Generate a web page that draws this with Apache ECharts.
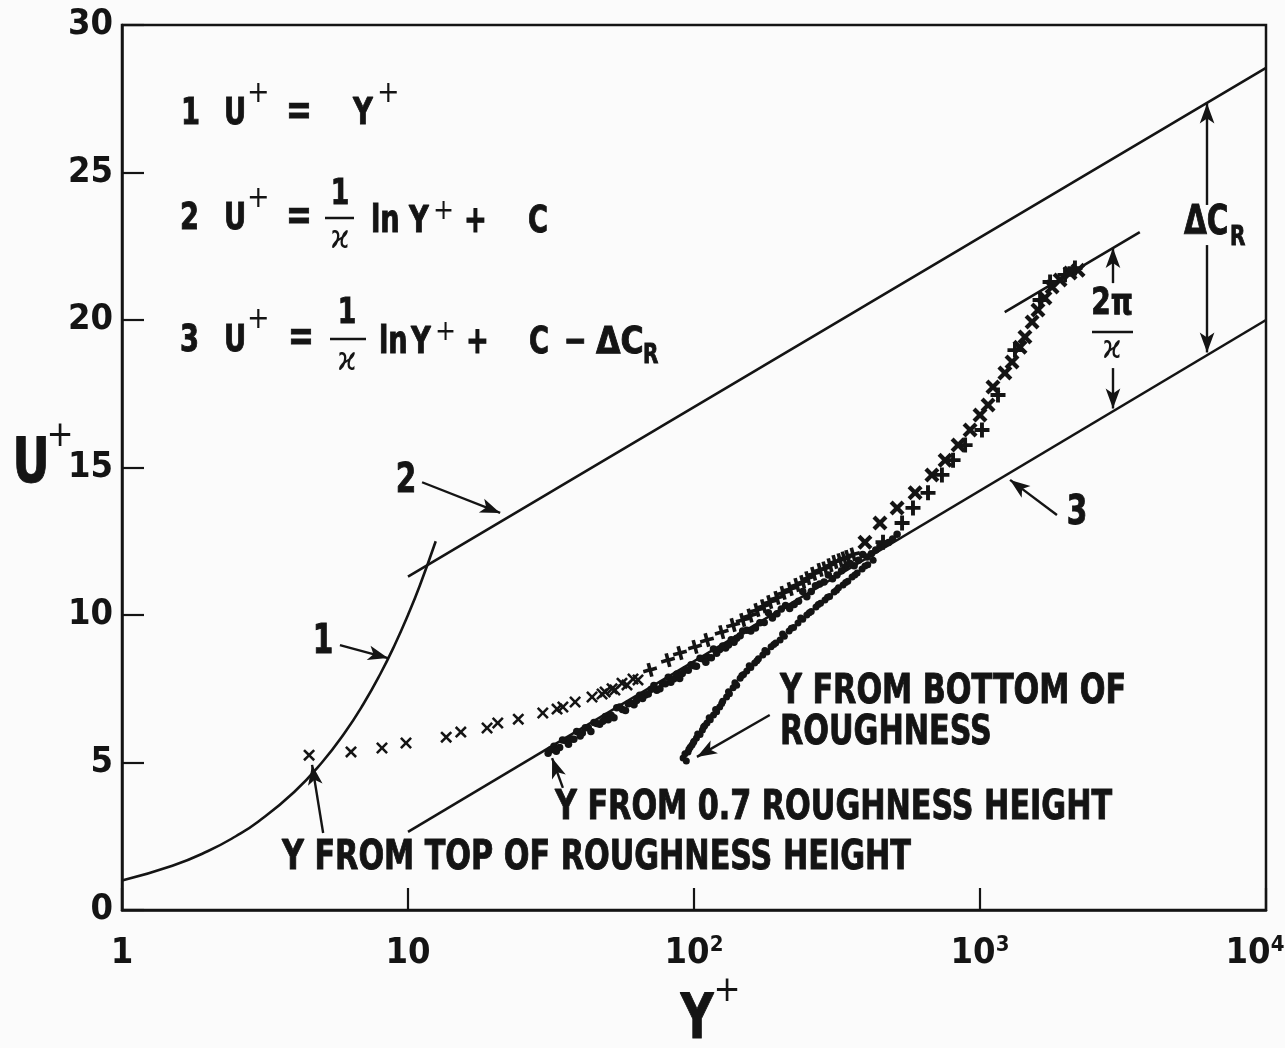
<!DOCTYPE html>
<html>
<head>
<meta charset="utf-8">
<title>Velocity profiles over rough wall</title>
<script src="https://cdn.jsdelivr.net/npm/echarts@6/dist/echarts.min.js"></script>
<style>
  html, body { margin: 0; padding: 0; background: #fbfbfb; overflow: hidden; }
  #c { width: 1285px; height: 1048px; }
</style>
</head>
<body>
<div id="c"></div>
<script>
const FONT = '"Liberation Sans Narrow", "DejaVu Sans Condensed", "Arial Narrow", sans-serif';
const INK = '#141414';

// Reference curves, pairs of [Y+, U+]
const viscousSublayer = [[1,1],[1.5,1.5],[2,2],[2.5,2.5],[3,3],[4,4],[5,5],[6,6],[7,7],[8,8],[9,9],[10,10],[11,11],[12.5,12.5]];
const logLawSmooth = [[10,11.3],[10000,28.55]];
const logLawRough = [[10,2.65],[10000,20.0]];
const wakeShiftLine = [[1220,20.27],[3620,22.98]];

// Y measured from top of roughness height (x marks, then + marks)
const topOfRoughnessX = [[4.51,5.25],[6.32,5.36],[8.11,5.49],[9.84,5.66],[13.6,5.86],[15.3,6.03],[18.9,6.17],[20.6,6.34],[24.3,6.47],[29.6,6.68],[33.2,6.81],[34.8,6.88],[38.4,7.05],[44.0,7.22],[47.7,7.32],[48.9,7.39],[51.7,7.50],[52.9,7.46],[56.0,7.69],[58.3,7.63],[61.2,7.83],[63.7,7.80]];
const topOfRoughnessPlus = [[70.2,8.14],[81.1,8.47],[89.3,8.71],[100.8,8.92],[111,9.15],[125,9.42],[137,9.66],[148,9.83],[157,9.98],[166,10.17],[175,10.30],[184,10.44],[195,10.58],[205,10.75],[217,10.88],[229,11.02],[240,11.12],[250,11.25],[262,11.40],[276,11.53],[287,11.58],[299,11.69],[311,11.80],[324,11.86],[335,11.92],[345,11.97],[360,12.05]];

// Y measured from 0.7 roughness height
const pointSevenHeight = [[30.9,5.31],[32.4,5.55],[33.9,5.51],[35.5,5.75],[37.2,5.80],[38.9,6.05],[40.7,6.00],[42.7,6.18],[44.7,6.36],[46.8,6.30],[49.0,6.56],[51.3,6.60],[53.7,6.86],[56.2,6.80],[58.9,6.99],[61.7,6.96],[64.6,7.28],[67.6,7.29],[70.8,7.48],[74.1,7.45],[77.6,7.68],[81.3,7.89],[85.1,7.84],[89.1,7.85],[93.3,8.14],[97.7,8.31],[102,8.26],[107,8.52],[112,8.56],[117,8.85],[123,8.83],[129,8.88],[135,9.16],[141,9.21],[148,9.46],[158,9.46],[170,9.74],[182,10.08],[195,10.04],[209,10.32],[224,10.36],[240,10.80],[257,10.80],[275,11.05],[295,11.36],[316,11.36],[339,11.63],[363,11.67],[389,12.05],[417,12.08],[447,12.35],[479,12.46],[513,12.74],
  [31.6,5.43],[34.7,5.76],[38.0,5.79],[41.7,6.18],[45.7,6.32],[50.1,6.45],[55.0,6.88],[60.3,7.01],[66.1,7.17],[72.4,7.61],[79.4,7.67],[87.1,8.00],[95.5,8.13],[105,8.53],[115,8.55],[126,8.95],[138,9.08],[153,9.48],[176,9.75],[202,10.20],[232,10.47],[266,10.99],[305,11.23],[351,11.75],[403,11.97],[462,12.41],
  [33.0,5.38],[36.4,5.62],[40.0,5.90],[43.6,6.05],[48.0,6.40],[52.5,6.52],[57.6,6.76],[63.0,7.10],[69.2,7.32],[76.0,7.50],[83.0,7.72],[91.0,8.02],[100,8.28],[110,8.40],[120,8.70],[132,8.98],[145,9.30],[164,9.56],[188,9.90],[216,10.22],[248,10.62],[285,11.12],[328,11.50],[376,11.86],[432,12.20],[495,12.58]];

// Y measured from bottom of roughness
const bottomOfRoughness = [[91.6,5.15],[95.3,5.36],[98.4,5.59],[102,5.83],[107,6.10],[111,6.34],[117,6.61],[123,6.88],[130,7.22],[137,7.53],[145,7.86],[153,8.10],[163,8.37],[174,8.64],[186,8.92],[200,9.15],[215,9.46],[231,9.73],[248,10.0],[267,10.27],[287,10.51],[309,10.78],[332,11.02],[357,11.29],[387,11.56],[423,11.86],
  [94,5.05],[97,5.52],[100,5.72],[105,5.95],[109,6.25],[114,6.45],[120,6.72],[126,7.08],[133,7.33],[141,7.62],[149,7.98],[158,8.22],[168,8.52],[180,8.75],[193,9.05],[207,9.28],[223,9.58],[240,9.86],[257,10.12],[277,10.40],[298,10.63],[320,10.92],[345,11.14],[372,11.42],[405,11.70],
  [93,5.30],[96,5.45],[99.5,5.68],[103,5.97],[108,6.20],[113,6.52],[119,6.80],[125,7.00],[132,7.40],[139,7.70],[147,7.95],[156,8.28],[166,8.45],[177,8.80],[190,9.00],[204,9.36],[219,9.55],[236,9.90],[253,10.08],[272,10.36],[293,10.60],[315,10.84],[339,11.10],[365,11.36],[396,11.66]];

// Outer region where the profiles merge
const outerRegionX = [[396,12.47],[447,13.12],[513,13.63],[593,14.14],[679,14.75],[755,15.25],[838,15.76],[923,16.27],[1000,16.78],[1067,17.12],[1110,17.73],[1222,18.20],[1294,18.58],[1380,19.08],[1436,19.42],[1521,19.93],[1595,20.34],[1687,20.75],[1786,21.12],[1905,21.36],[2065,21.59],[2202,21.69]];
const outerRegionPlus = [[458,12.47],[534,13.12],[583,13.63],[658,14.14],[736,14.75],[805,15.25],[887,15.76],[1016,16.27],[1156,17.46],[1325,18.98],[1622,20.68],[1758,21.29],[1983,21.53],[2148,21.76]];

// Pointer arrows: [from, to] in [Y+, U+]
const pointerArrows = [
  [[5.78,8.98],[8.51,8.54]],
  [[11.2,14.5],[21.0,13.46]],
  [[1858,13.39],[1274,14.58]],
  [[184,6.61],[102.4,5.19]],
  [[34.8,4.14],[31.9,5.15]],
  [[5.05,2.61],[4.62,4.92]],
  [[6223,23.9],[6223,27.34]],
  [[6223,22.54],[6223,18.9]],
  [[2917,21.25],[2917,22.44]],
  [[2917,18.37],[2917,17.0]]
];

const xTickExp = { 1: '1', 10: '10', 100: '2', 1000: '3', 10000: '4' };

const CROSS = 'path://M0,1.5L1.5,0L5,3.5L8.5,0L10,1.5L6.5,5L10,8.5L8.5,10L5,6.5L1.5,10L0,8.5L3.5,5Z';
const CROSS_BOLD = 'path://M0,2L2,0L5,3L8,0L10,2L7,5L10,8L8,10L5,7L2,10L0,8L3,5Z';
const PLUS_BOLD = 'path://M3.7,0H6.3V3.7H10V6.3H6.3V10H3.7V6.3H0V3.7H3.7Z';

const SQUEEZE = 0.82;
function T(x, y, text, size, opts) {
  opts = opts || {};
  const al = opts.align || 'left';
  const bold = (opts.weight || 'bold') === 'bold';
  return {
    type: 'text', x: x, y: y, z: 100, silent: true,
    scaleX: opts.sx || (bold ? SQUEEZE : 1),
    style: {
      text: text, fontSize: size, fontFamily: FONT,
      fontWeight: opts.weight || 'bold', fill: INK,
      stroke: bold ? INK : null, lineWidth: bold ? 0.9 : 0,
      align: al, verticalAlign: 'middle',
      textAlign: al, textVerticalAlign: 'middle'
    }
  };
}
function bar(x1, x2, y) {
  return { type: 'rect', z: 100, silent: true, shape: { x: x1, y: y - 1.25, width: x2 - x1, height: 2.5 }, style: { fill: INK } };
}

const lineStyle = { color: INK, width: 2.6 };
function curve(name, data, smooth) {
  return { name: name, type: 'line', data: data, smooth: smooth || false, symbol: 'none', lineStyle: lineStyle, silent: true, animation: false, z: 3 };
}
function marks(name, data, symbol, size, rotate) {
  return { name: name, type: 'scatter', data: data, symbol: symbol, symbolSize: size, symbolRotate: rotate || 0,
    itemStyle: { color: INK, opacity: 1 }, silent: true, animation: false, z: 4 };
}

const sublayer = curve('U+ = Y+', viscousSublayer, true);
sublayer.markLine = {
  silent: true, animation: false,
  symbol: ['none', 'arrow'], symbolSize: [11, 20],
  label: { show: false },
  lineStyle: { color: INK, width: 2.4, type: 'solid' },
  emphasis: { disabled: true },
  data: pointerArrows.map(a => [{ coord: a[0] }, { coord: a[1] }])
};

const tickFont = { fontSize: 36, fontWeight: 'bold', fontFamily: FONT, color: INK };

const option = {
  backgroundColor: '#fbfbfb',
  animation: false,
  grid: {
    left: 122, right: 19, top: 25, bottom: 138,
    containLabel: false, outerBoundsMode: 'none',
    show: true, borderColor: INK, borderWidth: 2.5, backgroundColor: 'transparent'
  },
  xAxis: {
    type: 'log', logBase: 10, min: 1, max: 10000,
    axisLine: { show: true, lineStyle: { color: INK, width: 2.5 } },
    axisTick: { show: true, inside: true, length: 22, lineStyle: { color: INK, width: 2.2 } },
    minorTick: { show: false },
    splitLine: { show: false },
    axisLabel: {
      margin: 24, color: INK, hideOverlap: false,
      formatter: function (v) {
        const k = Math.round(v);
        if (k === 1 || k === 10) return '{b|' + xTickExp[k] + '}';
        // the last label sits left of its tick, against the frame corner
        return '{b|10}{s|' + xTickExp[k] + '}' + (k === 10000 ? '{e|}' : '');
      },
      rich: {
        b: Object.assign({ lineHeight: 40 }, tickFont),
        s: { fontSize: 22, fontWeight: 'bold', fontFamily: FONT, color: INK, verticalAlign: 'top', lineHeight: 22 },
        e: { width: 22 }
      }
    }
  },
  yAxis: {
    type: 'value', min: 0, max: 30, interval: 5,
    axisLine: { show: true, lineStyle: { color: INK, width: 2.5 } },
    axisTick: { show: true, inside: true, length: 22, lineStyle: { color: INK, width: 2.2 } },
    splitLine: { show: false },
    axisLabel: Object.assign({ margin: 9 }, tickFont)
  },
  series: [
    sublayer,
    curve('log law', logLawSmooth),
    curve('rough log law', logLawRough),
    curve('shifted log law', wakeShiftLine),
    marks('top of roughness height', topOfRoughnessX, CROSS, 12, 0),
    marks('top of roughness height +', topOfRoughnessPlus, PLUS_BOLD, 14, 15),
    marks('0.7 roughness height', pointSevenHeight, 'circle', 7.5),
    marks('bottom of roughness', bottomOfRoughness, 'circle', 7),
    marks('outer region x', outerRegionX, CROSS_BOLD, 15, 0),
    marks('outer region +', outerRegionPlus, PLUS_BOLD, 15, 0)
  ],
  graphic: [
    // equation 1
    T(181, 114, '1', 37), T(224, 114, 'U', 37), T(247, 94, '+', 30, { weight: 'normal' }),
    T(286, 113, '=', 42), T(353, 114, 'Y', 37), T(377, 94, '+', 30, { weight: 'normal' }),
    // equation 2
    T(180, 219, '2', 37), T(224, 219, 'U', 37), T(247, 199, '+', 30, { weight: 'normal' }),
    T(286, 218, '=', 42),
    T(340, 195, '1', 36, { align: 'center' }), bar(325, 354, 218), T(340, 240, 'ϰ', 32, { align: 'center', weight: 'normal' }),
    T(371, 222, 'ln', 37), T(409, 222, 'Y', 37), T(433, 212, '+', 28, { weight: 'normal' }),
    T(464, 222, '+', 37), T(528, 222, 'C', 37),
    // equation 3
    T(180, 341, '3', 37), T(224, 341, 'U', 37), T(247, 320, '+', 30, { weight: 'normal' }),
    T(288, 339, '=', 42),
    T(347, 314, '1', 36, { align: 'center' }), bar(330, 366, 339), T(347, 362, 'ϰ', 32, { align: 'center', weight: 'normal' }),
    T(379, 343, 'ln', 37), T(411, 343, 'Y', 37), T(435, 333, '+', 28, { weight: 'normal' }),
    T(466, 343, '+', 37), T(529, 343, 'C', 37), T(564, 343, '−', 37),
    T(596, 343, 'ΔC', 37, { sx: 0.95 }), T(643, 356, 'R', 27),
    // curve numbers
    T(323, 643, '1', 40, { align: 'center' }),
    T(406, 482, '2', 40, { align: 'center' }),
    T(1077, 514, '3', 40, { align: 'center' }),
    // data set labels
    T(780, 692, 'Y FROM BOTTOM OF', 41),
    T(780, 733, 'ROUGHNESS', 41),
    T(555, 808, 'Y FROM 0.7 ROUGHNESS HEIGHT', 41),
    T(282, 858, 'Y FROM TOP OF ROUGHNESS HEIGHT', 41),
    // offsets between log laws
    T(1184, 224, 'ΔC', 40), T(1230, 238, 'R', 27),
    T(1112, 304, '2π', 38, { align: 'center' }), bar(1092, 1133, 332), T(1112, 350, 'ϰ', 32, { align: 'center', weight: 'normal' }),
    // axis titles
    T(31, 466, 'U', 62, { align: 'center' }), T(60, 437, '+', 36, { align: 'center', weight: 'normal' }),
    T(697, 1022, 'Y', 62, { align: 'center' }), T(727, 992, '+', 36, { align: 'center', weight: 'normal' })
  ]
};

const chart = echarts.init(document.getElementById('c'));
chart.setOption(option);
</script>
</body>
</html>
